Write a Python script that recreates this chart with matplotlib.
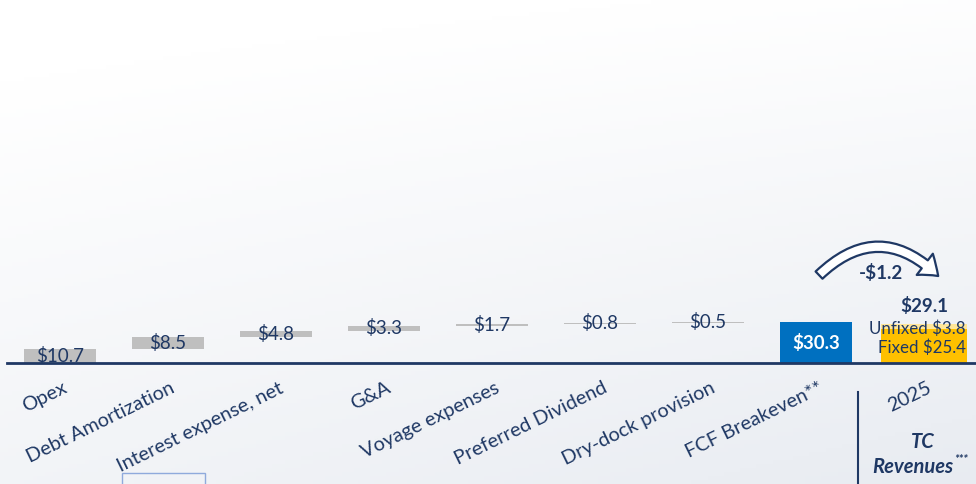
import numpy as np
import matplotlib.pyplot as plt
from matplotlib.patches import FancyArrowPatch, Rectangle

plt.rcParams['font.family'] = ['Lato', 'DejaVu Sans']

categories = ['Opex', 'Debt Amortization', 'Interest expense, net', 'G&A',
              'Voyage expenses', 'Preferred Dividend', 'Dry-dock provision',
              'FCF Breakeven**', '2025']
costs = [10.7, 8.5, 4.8, 3.3, 1.7, 0.8, 0.5]
breakeven = 30.3
fixed = 25.4
unfixed = 3.8
tc_total = 29.1
gap = -1.2

navy = '#1f3864'
gray = '#bfbfbf'
blue = '#0070c0'
gold = '#ffc000'
light_gold = '#ffe699'

fig = plt.figure(figsize=(9.76, 4.84), dpi=100)
ax = fig.add_axes([0, 0, 1, 1])
ax.set_xlim(-0.556, 8.482)
ax.set_ylim(-89.6, 268.9)
ax.axis('off')

# soft photo-like background
h, w = 120, 240
yy, xx = np.mgrid[0:1:h * 1j, 0:1:w * 1j]
shade = np.clip(0.6 * yy + 0.25 * xx * yy + 0.15 * xx - 0.1, 0, 1)
top = np.array([1.0, 1.0, 1.0])
bot = np.array([0.90, 0.915, 0.94])
bg = top * (1 - shade[..., None]) + bot * shade[..., None]
ax.imshow(bg, extent=[-0.556, 8.482, -89.6, 268.9], aspect='auto', zorder=0, origin='upper')

# waterfall of costs
bottoms = np.concatenate([[0], np.cumsum(costs)[:-1]])
x = np.arange(len(costs))
ax.bar(x, costs, bottom=bottoms, width=0.66, color=gray, zorder=2)
for xi, b, c in zip(x, bottoms, costs):
    ax.text(xi, b + c / 2, f'${c:.1f}', ha='center', va='center',
            color=navy, fontsize=13.5, zorder=4)

# breakeven bar
ax.bar(7, breakeven, width=0.66, color=blue, zorder=2)
ax.text(7, breakeven / 2, f'${breakeven:.1f}', ha='center', va='center',
        color='white', fontsize=13.5, fontweight='bold', zorder=4)

# TC revenues stacked bar
ax.bar(8, fixed, width=0.8, color=gold, zorder=2)
ax.bar(8, unfixed, bottom=fixed, width=0.8, color=light_gold, zorder=2)
ax.text(8.39, fixed / 2 - 1.2, f'Fixed ${fixed:.1f}', ha='right', va='center',
        color=navy, fontsize=12.2, zorder=4)
ax.text(8.39, fixed - 0.2, f'Unfixed ${unfixed:.1f}', ha='right',
        va='center', color=navy, fontsize=12.2, zorder=4)
ax.text(8.0, 42.5, f'${tc_total:.1f}', ha='center', va='center', color=navy,
        fontsize=13.5, fontweight='bold', zorder=4)

# gap arrow
arrow = FancyArrowPatch((7.01, 63.7), (8.15, 63.0),
                        connectionstyle='arc3,rad=-0.5',
                        arrowstyle='simple,head_length=0.8,head_width=1.2,tail_width=0.45',
                        mutation_scale=16, facecolor='white', edgecolor=navy,
                        linewidth=1.6, zorder=5)
ax.add_patch(arrow)
ax.text(7.6, 67.0, f'-${abs(gap):.1f}', ha='center', va='center', color=navy,
        fontsize=13.5, fontweight='bold', zorder=5)

# baseline
ax.plot([-0.49, 8.482], [0, 0], color=navy, lw=2, zorder=3)

# category labels
for i, lab in enumerate(categories):
    ax.text(i + 0.02, -12.0, lab, rotation=26, rotation_mode='anchor',
            ha='right', va='top', color=navy, fontsize=14.3, zorder=4)

# separator and TC Revenues label
ax.plot([7.39, 7.39], [-21.5, -89.6], color=navy, lw=1.5, zorder=3)
ax.text(7.99, -58.5, 'TC', ha='center', va='center', color=navy, fontsize=14.5,
        fontweight='bold', fontstyle='italic', zorder=4)
ax.text(8.27, -77.0, 'Revenues', ha='right', va='center', color=navy, fontsize=14.5,
        fontweight='bold', fontstyle='italic', zorder=4)
ax.text(8.275, -71.5, '***', ha='left', va='center', color=navy, fontsize=8.5,
        fontweight='bold', fontstyle='italic', zorder=4)

# stray empty text box outline
ax.add_patch(Rectangle((0.574, -95), 0.77, 13.3, fill=False,
                       edgecolor='#8faadc', lw=1, zorder=3))

fig.savefig('out.png', dpi=100)
